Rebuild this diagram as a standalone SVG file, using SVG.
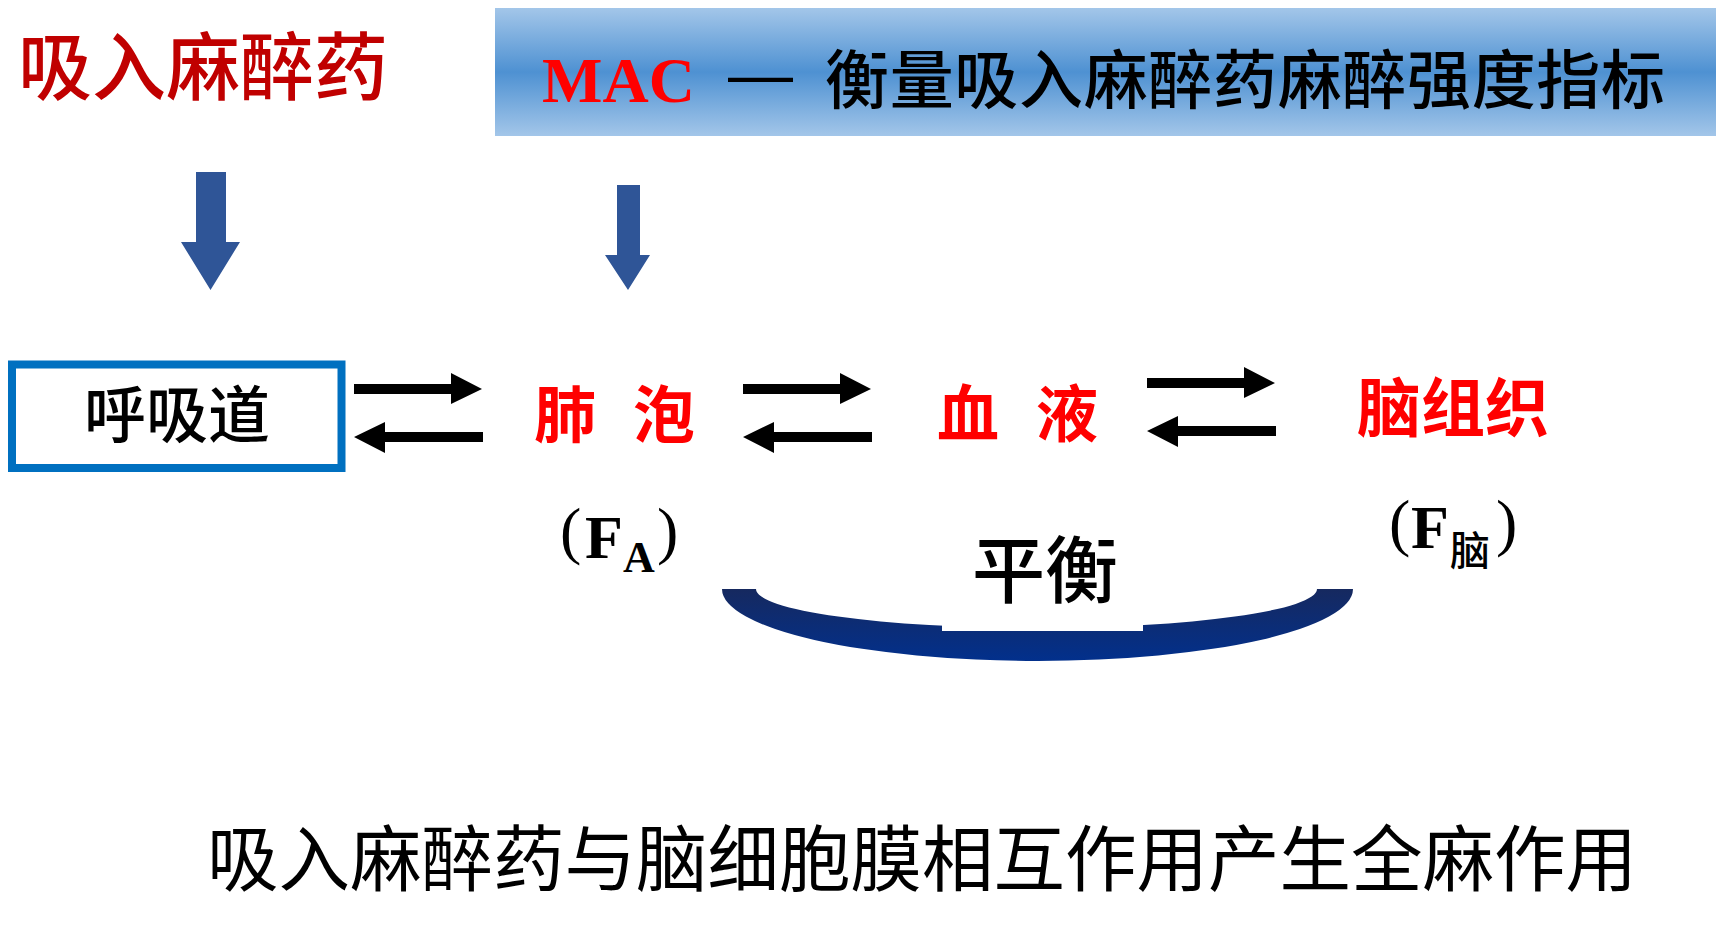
<svg xmlns="http://www.w3.org/2000/svg" xmlns:xlink="http://www.w3.org/1999/xlink" width="1723" height="927" viewBox="0 0 1723 927">
<defs>
<style>
.cjk{font-family:"Noto Sans CJK SC","Noto Sans CJK TC",sans-serif;}
.red{fill:#ff0000;}
.dred{fill:#c00000;}
.blk{fill:#000000;}
.ser{font-family:"Liberation Serif","Times New Roman",serif;}
.blue-arrow{fill:#2f5597;}
</style>
<linearGradient id="hdr" x1="0" y1="0" x2="0" y2="1">
<stop offset="0" stop-color="#a3c6e9"/>
<stop offset="0.5" stop-color="#4e91d2"/>
<stop offset="1" stop-color="#a3c6e9"/>
</linearGradient>
<linearGradient id="bowl" x1="0" y1="0" x2="0" y2="1">
<stop offset="0" stop-color="#16295f"/>
<stop offset="1" stop-color="#02308c"/>
</linearGradient>
<g id="dbl">
<path d="M0,11 H97 V0 L128,16 L97,31 V21 H0 Z" fill="#000"/>
<path d="M129,59 H31 V49 L0,64 L31,80 V69 H129 Z" fill="#000"/>
</g>
</defs>
<rect width="1723" height="927" fill="#ffffff"/>

<g id="title">
<text class="cjk dred" x="18" y="94" font-size="74" font-weight="500">吸入麻醉药</text>
</g>

<g id="header">
<rect x="495" y="8" width="1221" height="128" fill="url(#hdr)"/>
<text class="ser red" x="542" y="101.5" font-size="64" font-weight="700">MAC</text>
<text x="728" y="96" font-size="65" font-family="'Liberation Sans',Arial,sans-serif" fill="#000">—</text>
<text class="cjk blk" x="825" y="103" font-size="64" font-weight="500" textLength="840" lengthAdjust="spacing">衡量吸入麻醉药麻醉强度指标</text>
</g>

<g id="connectors">
<path class="blue-arrow" d="M196,172 H226 V242 H240 L210.5,290 L181,242 H196 Z"/>
<path class="blue-arrow" d="M617,185 H640 V255 H650 L628,290 L605,255 H617 Z"/>
<use xlink:href="#dbl" transform="translate(354,373)"/>
<use xlink:href="#dbl" transform="translate(743,373)"/>
<use xlink:href="#dbl" transform="translate(1147,367)"/>
</g>

<g id="node-airway">
<rect x="12" y="364.5" width="329.5" height="103.5" fill="#fff" stroke="#0070c0" stroke-width="8"/>
<text class="cjk blk" x="177" y="438" font-size="62" font-weight="500" text-anchor="middle">呼吸道</text>
</g>

<g id="node-alveoli">
<text class="cjk red" y="438" font-size="62" font-weight="700"><tspan x="534">肺</tspan><tspan x="633">泡</tspan></text>
<text class="blk" x="560" y="552" font-size="64" font-family="'Liberation Serif',serif">(</text>
<text class="ser blk" x="585" y="558" font-size="62" font-weight="700">F</text>
<text class="ser blk" x="623" y="572" font-size="44" font-weight="700">A</text>
<text class="blk" x="657" y="552" font-size="64" font-family="'Liberation Serif',serif">)</text>
</g>

<g id="node-blood">
<text class="cjk red" y="437" font-size="62" font-weight="700"><tspan x="937">血</tspan><tspan x="1036">液</tspan></text>
</g>

<g id="node-brain">
<text class="cjk red" x="1357" y="431" font-size="64" font-weight="700">脑组织</text>
<text class="blk" x="1389" y="544" font-size="64" font-family="'Liberation Serif',serif">(</text>
<text class="ser blk" x="1411" y="548" font-size="62" font-weight="700">F</text>
<text class="cjk blk" x="1450" y="565" font-size="40" font-weight="500">脑</text>
<text class="blk" x="1496" y="544" font-size="64" font-family="'Liberation Serif',serif">)</text>
</g>

<g id="balance">
<path d="M722,589 A315.5,72 0 0 0 1353,589 L1317,589 A280.5,39 0 0 1 756,589 Z" fill="url(#bowl)"/>
<rect x="942" y="560" width="201" height="71" fill="#fff"/>
<text class="cjk blk" x="1045" y="597" font-size="73" font-weight="500" text-anchor="middle">平衡</text>
</g>

<g id="conclusion">
<text class="cjk blk" x="207" y="885" font-size="71.5" font-weight="400">吸入麻醉药与脑细胞膜相互作用产生全麻作用</text>
</g>
</svg>
